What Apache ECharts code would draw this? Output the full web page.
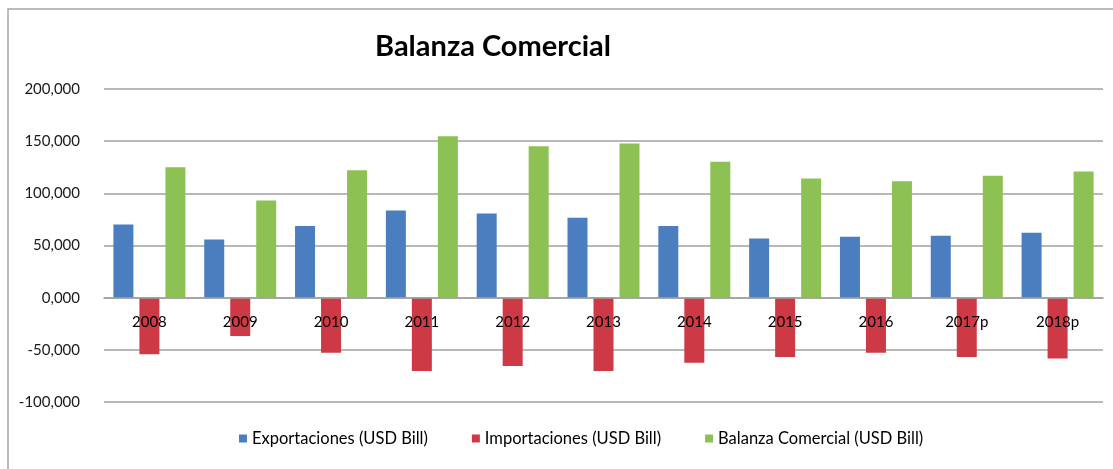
<!DOCTYPE html>
<html>
<head>
<meta charset="utf-8">
<script src="https://cdn.jsdelivr.net/npm/echarts@6/dist/echarts.min.js"></script>
<style>
  html, body { margin: 0; padding: 0; background: #fff; }
  #chart { width: 1113px; height: 469px; }
</style>
</head>
<body>
<div id="chart"></div>
<script>
// datos (USD Bill)
var years = ['2008', '2009', '2010', '2011', '2012', '2013', '2014', '2015', '2016', '2017p', '2018p'];
var exportaciones = [70200, 55800, 68600, 83600, 80700, 76600, 68600, 56800, 58400, 59400, 62300];
var importaciones = [-54300, -36800, -52700, -70300, -65500, -70300, -62300, -56900, -52700, -56900, -58400];
var balanza = [125100, 93200, 122200, 154800, 145200, 147800, 130300, 114300, 111700, 116900, 121000];
var seriesNames = ['Exportaciones (USD Bill)', 'Importaciones (USD Bill)', 'Balanza Comercial (USD Bill)'];

var chart = echarts.init(document.getElementById('chart'));

var fuente = 'Lato, "Open Sans", sans-serif';

var option = {
  backgroundColor: '#fff',
  color: ['#4a7ebf', '#cd3a45', '#8ec153'],
  title: {
    text: 'Balanza Comercial',
    left: 488,
    top: 27,
    textAlign: 'center',
    textStyle: { fontFamily: fuente, fontSize: 29, fontWeight: 'bold', color: '#000' }
  },
  // marco gris del area del grafico
  graphic: [{
    type: 'rect',
    shape: { x: 8, y: 9, width: 1130, height: 480 },
    style: { fill: 'none', stroke: '#a6a6a6', lineWidth: 1.5 },
    silent: true
  }],
  legend: {
    data: seriesNames,
    bottom: 17,
    left: 234,
    icon: 'rect',
    itemWidth: 8,
    itemHeight: 8,
    itemGap: 44,
    textStyle: { fontFamily: fuente, fontSize: 16.5, color: '#000' }
  },
  grid: { left: 104, right: 10, top: 89, bottom: 67 },
  xAxis: {
    type: 'category',
    data: years,
    // el eje se sube hasta la linea del cero (offset = altura de 100.000)
    offset: -104,
    axisLine: { onZero: false, lineStyle: { color: '#a0a0a0', width: 1.5 } },
    axisTick: { show: false },
    axisLabel: { fontFamily: fuente, fontSize: 15, color: '#000', margin: 17 },
    z: 10
  },
  yAxis: {
    type: 'value',
    min: -100000,
    max: 200000,
    interval: 50000,
    axisLine: { show: false },
    axisTick: { show: false },
    splitLine: { lineStyle: { color: '#a0a0a0', width: 1.5 } },
    axisLabel: {
      fontFamily: fuente,
      fontSize: 15,
      color: '#1a1a1a',
      margin: 24,
      formatter: function (v) {
        return (v < 0 ? '-' : '') + Math.abs(v) / 1000 + ',000';
      }
    }
  },
  series: [
    { name: seriesNames[0], type: 'bar', data: exportaciones, barWidth: 20, barGap: '30%', barCategoryGap: '21%' },
    { name: seriesNames[1], type: 'bar', data: importaciones, barWidth: 20, barGap: '30%' },
    { name: seriesNames[2], type: 'bar', data: balanza, barWidth: 20, barGap: '30%' }
  ]
};

chart.setOption(option);
</script>
</body>
</html>
